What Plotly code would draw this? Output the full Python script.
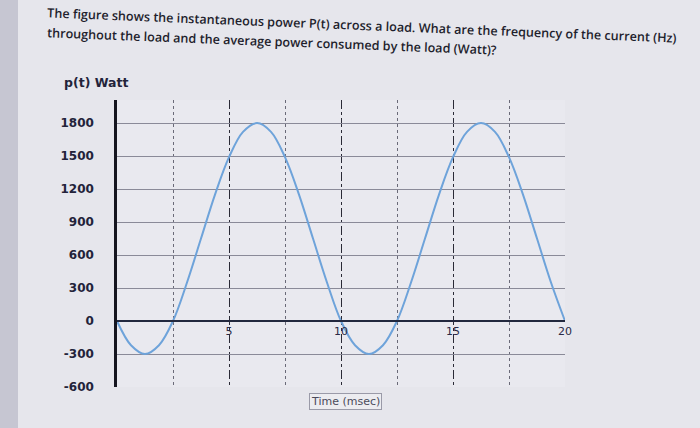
import plotly.graph_objects as go

# power, every 0.625 ms
t_ms = [0, 0.625, 1.25, 1.875, 2.5, 3.125, 3.75, 4.375, 5, 5.625, 6.25, 6.875,
        7.5, 8.125, 8.75, 9.375, 10, 10.625, 11.25, 11.875, 12.5, 13.125, 13.75,
        14.375, 15, 15.625, 16.25, 16.875, 17.5, 18.125, 18.75, 19.375, 20]
p_watt = [0, -220, -300, -220, 0, 350, 750, 1150, 1490, 1720, 1800, 1720,
          1490, 1150, 750, 350, 0, -220, -300, -220, 0, 350, 750, 1150, 1490,
          1720, 1800, 1720, 1490, 1150, 750, 350, 0]

y_ticks = [-600, -300, 0, 300, 600, 900, 1200, 1500, 1800]
y_ticklabels = ['-600', '-300', '0', '300', '600', '900', '1200', '1500', '1800']
x_ticks = [5, 10, 15, 20]
x_ticklabels = ['5', '10', '15', '20']

question_1 = ("The figure shows the instantaneous power P(t) across a load. "
              "What are the frequency of the current (Hz)")
question_2 = "throughout the load and the average power consumed by the load (Watt)?"

# plot area in pixels (used to place the texts)
L, R, T, B = 117, 565, 100, 387
W, H = R - L, B - T
def px(x): return (x - L) / W
def py(y): return (B - y) / H

y_lo, y_hi = -600, 2010

fig = go.Figure()
fig.add_trace(go.Scatter(x=t_ms, y=p_watt, mode='lines',
                         line=dict(color='#6ea3da', width=2, shape='spline'),
                         hoverinfo='skip', showlegend=False))

q_font = dict(family='Open Sans', size=12.6, color='#1e1e2c', weight=600)

fig.update_layout(
    width=700, height=428,
    margin=dict(l=L, r=700 - R, t=T, b=428 - B),
    paper_bgcolor='#e6e6ec', plot_bgcolor='#e9e9ef',
    font=dict(family='DejaVu Sans', color='#23233a'),
    xaxis=dict(range=[0, 20], tickvals=x_ticks, ticktext=x_ticklabels,
               anchor='free', position=(0 - y_lo) / (y_hi - y_lo),
               showline=True, linecolor='#22283e', linewidth=2,
               ticks='', tickfont=dict(size=11, color='#2a2a46'),
               showgrid=True, gridcolor='#2a2a36', griddash='dashdot', gridwidth=1.3,
               minor=dict(dtick=2.5, tick0=0, showgrid=True, gridcolor='#6a6a78',
                          griddash='dot', gridwidth=1),
               zeroline=False),
    yaxis=dict(range=[y_lo, y_hi], tickvals=y_ticks, ticktext=y_ticklabels,
               showline=True, linecolor='#15151f', linewidth=2.5,
               showgrid=True, gridcolor='#8a8a98', gridwidth=1,
               zeroline=False, ticks='', ticklabelstandoff=18,
               tickfont=dict(size=12, color='#23233a', weight='bold')),
    shapes=[dict(type='rect', xref='paper', yref='paper', layer='below',
                 x0=px(0), x1=px(18), y0=py(428), y1=py(0),
                 fillcolor='#c6c6d2', line=dict(width=0))],
    annotations=[
        dict(text=question_1, xref='paper', yref='paper', x=px(362), y=py(25.5),
             xanchor='center', yanchor='middle', showarrow=False,
             textangle=2.3, font=q_font),
        dict(text=question_2, xref='paper', yref='paper', x=px(272), y=py(41.5),
             xanchor='center', yanchor='middle', showarrow=False,
             textangle=2.2, font=q_font),
        dict(text='p(t) Watt', xref='paper', yref='paper', x=px(62), y=py(82),
             xanchor='left', yanchor='middle', showarrow=False,
             font=dict(size=12.5, color='#23233a', weight='bold')),
        dict(text='Time (msec)', xref='paper', yref='paper', x=px(345), y=py(401),
             xanchor='center', yanchor='middle', showarrow=False,
             bordercolor='#9a9aa8', borderwidth=1, borderpad=1, bgcolor='#ececf0',
             font=dict(size=11, color='#4a4a5a')),
    ],
)

# drop the default page margin so the figure sits at the window corner
fig.write_html("out.html", config={'displayModeBar': False},
               post_script="document.body.style.margin='0';")
